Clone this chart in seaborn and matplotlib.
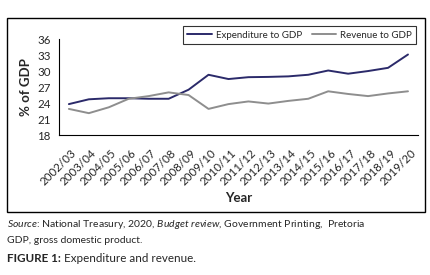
import matplotlib
matplotlib.use("Agg")
import matplotlib.pyplot as plt
import matplotlib.transforms as mtransforms
from matplotlib.patches import Rectangle
from matplotlib.lines import Line2D
import numpy as np
import pandas as pd
import seaborn as sns

years = ["2002/03", "2003/04", "2004/05", "2005/06", "2006/07", "2007/08",
         "2008/09", "2009/10", "2010/11", "2011/12", "2012/13", "2013/14",
         "2014/15", "2015/16", "2016/17", "2017/18", "2018/19", "2019/20"]
expenditure = [23.8, 24.7, 24.9, 24.9, 24.8, 24.8, 26.5, 29.3, 28.5, 28.85,
               28.9, 29.0, 29.3, 30.1, 29.5, 30.0, 30.6, 33.1]
revenue = [22.9, 22.1, 23.2, 24.8, 25.3, 26.0, 25.5, 22.9, 23.8, 24.3,
           23.9, 24.4, 24.8, 26.2, 25.7, 25.3, 25.8, 26.2]
series_names = ["Expenditure to GDP", "Revenue to GDP"]
colors = {"Expenditure to GDP": "#2b2a6a", "Revenue to GDP": "#8e8e8e"}

df = pd.DataFrame({"value": expenditure + revenue,
                   "series": [series_names[0]] * len(years) + [series_names[1]] * len(years),
                   "pos": list(range(len(years))) * 2})

sns.set_style("white")
plt.rcParams["font.family"] = ["Lato", "DejaVu Sans"]
plt.rcParams["mathtext.fontset"] = "custom"
plt.rcParams["mathtext.rm"] = "Lato"
plt.rcParams["mathtext.it"] = "Lato:italic"
plt.rcParams["mathtext.bf"] = "Lato:bold"

fig = plt.figure(figsize=(4.3, 2.75), dpi=100)
ax = fig.add_axes([0.137, 0.509, 0.835, 0.349])

sns.lineplot(data=df, x="pos", y="value", hue="series", palette=colors,
             linewidth=1.4, ax=ax, legend=False)

ax.set_xlim(-0.5, len(years) - 0.5)
ax.set_ylim(18, 36)
ax.set_yticks(np.arange(18, 37, 3))
ax.set_xticks(np.arange(len(years)))
ax.set_xticklabels(years, rotation=45, ha="right", rotation_mode="anchor", fontsize=8.3)
ax.set_xticks(np.arange(-0.5, len(years), 1), minor=True)
ax.tick_params(axis="x", which="major", length=0, pad=9)
ax.tick_params(axis="x", which="minor", length=4, width=0.8, direction="out", color="black")
ax.tick_params(axis="y", length=4, width=0.8, direction="out", color="black", labelsize=8.3, pad=2)
shift = mtransforms.ScaledTranslation(2 / 100, 0, fig.dpi_scale_trans)
for lbl in ax.get_xticklabels():
    lbl.set_transform(lbl.get_transform() + shift)
ax.spines["top"].set_visible(False)
ax.spines["right"].set_visible(False)
for s in ["left", "bottom"]:
    ax.spines[s].set_color("black")
    ax.spines[s].set_linewidth(0.8)
ax.set_xlabel("Year", fontsize=9.5, fontweight="bold", labelpad=3)
ax.set_ylabel("% of GDP", fontsize=9.5, fontweight="bold", labelpad=4)

handles = [Line2D([], [], color=colors[n], lw=1.4) for n in series_names]
leg = fig.legend(handles, series_names, ncol=2,
                 loc="upper right", bbox_to_anchor=(0.979, 0.922), fontsize=7,
                 frameon=True, fancybox=False, handlelength=2.5, columnspacing=1.0,
                 borderpad=0.45, handletextpad=0.4)
leg.get_frame().set_edgecolor("black")
leg.get_frame().set_linewidth(0.8)

# outer frame around chart
fig.patches.append(Rectangle((0.016, 0.229), 0.972, 0.705, transform=fig.transFigure,
                             fill=False, edgecolor="black", linewidth=1))

fig.text(0.016, 0.174,
         r"$\it{Source}$: National Treasury, 2020, $\it{Budget\ review}$, Government Printing,  Pretoria",
         fontsize=7.5)
fig.text(0.016, 0.118, "GDP, gross domestic product.", fontsize=7.5)

fig.canvas.draw()
t = fig.text(0.016, 0.048, "FIGURE 1:", fontsize=8.4, fontweight="bold")
w = t.get_window_extent(renderer=fig.canvas.get_renderer()).width / fig.bbox.width
fig.text(0.016 + w, 0.048, " Expenditure and revenue.", fontsize=8.4)

fig.savefig("out.png", dpi=100)
